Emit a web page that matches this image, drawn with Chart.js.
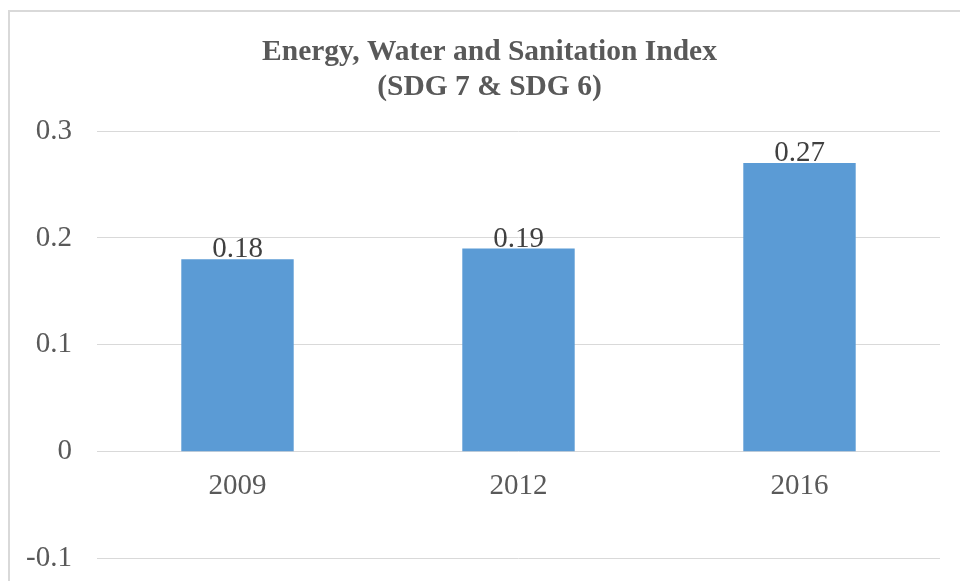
<!DOCTYPE html>
<html>
<head>
<meta charset="utf-8">
<script src="https://cdn.jsdelivr.net/npm/chart.js@4.4.1/dist/chart.umd.min.js"></script>
<style>
  html, body { margin: 0; padding: 0; background: #fff; }
  #wrap { position: relative; width: 960px; height: 581px; overflow: hidden; }
  #frame { position: absolute; left: 8px; top: 10px; width: 1000px; height: 700px; border: 2px solid #d9d9d9; box-sizing: border-box; }
  canvas { position: absolute; left: 0; top: 0; }
</style>
</head>
<body>
<div id="wrap">
  <div id="frame"></div>
  <canvas id="c" width="960" height="581"></canvas>
</div>
<script>
const categories = ['2009', '2012', '2016'];
const indexValues = [0.18, 0.19, 0.27];
const yTicks = [-0.1, 0, 0.1, 0.2, 0.3];
const titleLines = ['Energy, Water and Sanitation Index', '(SDG 7 & SDG 6)'];

const FONT = '"Liberation Serif", "Times New Roman", serif';

const valueLabels = {
  id: 'valueLabels',
  afterLayout(chart) {
    // let the y tick labels use the space left of the axis box
    chart.scales.y.left = 0;
  },
  afterDatasetsDraw(chart) {
    const ctx = chart.ctx;
    const meta = chart.getDatasetMeta(0);
    ctx.save();
    ctx.font = '29px ' + FONT;
    ctx.fillStyle = '#404040';
    ctx.textAlign = 'center';
    ctx.textBaseline = 'alphabetic';
    meta.data.forEach((bar, i) => {
      ctx.fillText(String(indexValues[i]), bar.x, bar.y - 2);
    });
    ctx.restore();
  }
};

new Chart(document.getElementById('c'), {
  type: 'bar',
  data: {
    labels: categories,
    datasets: [{
      data: indexValues,
      backgroundColor: '#5b9bd5',
      borderWidth: 0,
      categoryPercentage: 1,
      barPercentage: 0.4
    }]
  },
  options: {
    responsive: false,
    animation: false,
    devicePixelRatio: 1,
    layout: { padding: { left: 39, right: 20, top: 0, bottom: 0 } },
    plugins: {
      legend: { display: false },
      tooltip: { enabled: false },
      title: {
        display: true,
        text: titleLines,
        color: '#595959',
        font: { family: FONT, size: 29.5, weight: 'bold', lineHeight: '35px' },
        padding: { top: 35, bottom: 26 }
      }
    },
    scales: {
      y: {
        min: -0.1,
        max: 0.3,
        afterBuildTicks(scale) { scale.ticks = yTicks.map(v => ({ value: v })); },
        afterFit(scale) { scale.width = 58; },
        grid: { color: '#d9d9d9', drawTicks: true, tickLength: 20, tickColor: 'rgba(0,0,0,0)', lineWidth: 1 },
        border: { display: false },
        ticks: {
          color: '#595959',
          padding: 5,
          font: { family: FONT, size: 29 },
          callback: (v) => String(Math.round(v * 10) / 10)
        }
      },
      x: {
        position: { y: 0 },
        afterFit(scale) { scale.height = 0; },
        grid: { display: false },
        border: { display: false },
        ticks: {
          color: '#595959',
          padding: 9,
          font: { family: FONT, size: 29 }
        }
      }
    }
  },
  plugins: [valueLabels]
});
</script>
</body>
</html>
